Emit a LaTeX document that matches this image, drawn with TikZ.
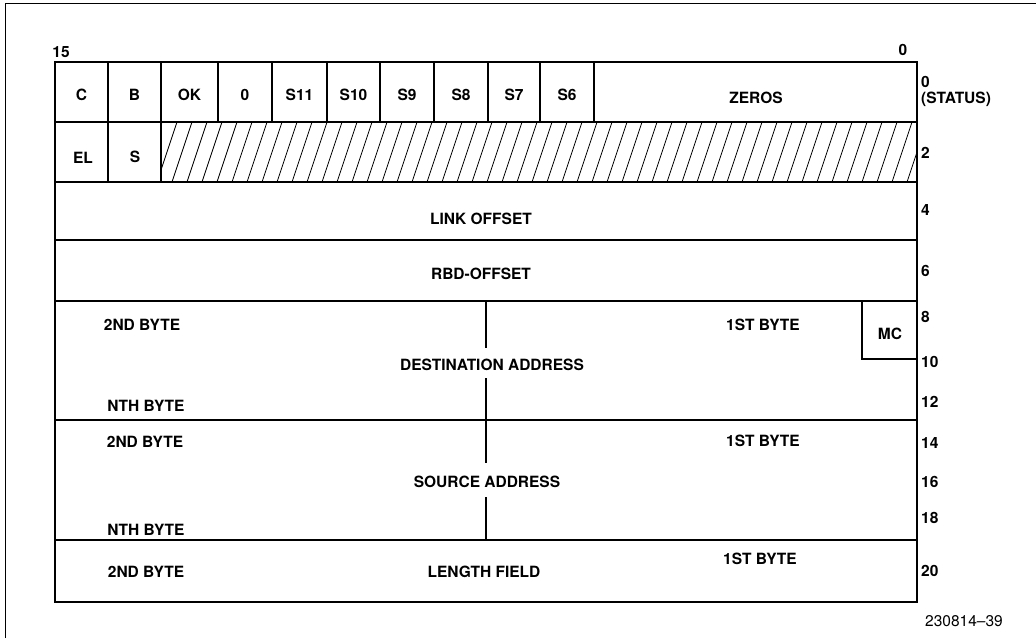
\documentclass[tikz,border=0pt]{standalone}
\usepackage{fontspec}
\setmainfont{TeX Gyre Heros}
\usetikzlibrary{calc}

\tikzset{
  fld/.style = {font=\bfseries\fontsize{15.5}{16}\selectfont, inner sep=0pt},
  rowline/.style = {line width=1.6pt},
}

\begin{document}
\begin{tikzpicture}[x=1pt,y=-1pt]
        \useasboundingbox (0,0) rectangle (1036,638);
        % Rahmen
        \draw[line width=0.8pt](5,638)to(5,3)to(1036,3);
        % Tabelle
        \draw[rowline](55,62)rectangle(917,602);
        \foreach \y in {122,182,240,301,420,540}
        {
        \draw[rowline](55,\y)to(917,\y);
        }
        \foreach \x in {108,161,218,272,327,380,434,488,540,594}
        {
        \draw[rowline](\x,62)to(\x,122);
        }
        \foreach \x in {108,161}
        {
        \draw[rowline](\x,122)to(\x,182);
        }
        % schraffiert
        \begin{scope}
        \clip(161,122)rectangle(917,182);
        \foreach \x in {142,157,...,932}
        {
        \draw[line width=0.8pt](\x,182)to(\x+20,122);
        }
        \end{scope}
        % Trennlinie Adressen
        \draw[rowline](486,301)to(486,348);
        \draw[rowline](486,378)to(486,463);
        \draw[rowline](486,497)to(486,540);
        \draw[rowline](862,301)to(862,359)to(917,359);
        % Statusbits
        \foreach \t/\x in {C/81.5,B/134.5,OK/189.5,0/245,S11/299.5,S10/353.5,S9/407,S8/461,S7/514,S6/567}
        {
        \node[fld](f\t)at(\x,95){\t};
        }
        \node[fld](zeros)at(756,98){ZEROS};
        \node[fld](fEL)at(83,158){EL};
        \node[fld](fS)at(135,157){S};
        \node[fld](link)at(481,219){LINK OFFSET};
        \node[fld](rbd)at(481,274){RBD-OFFSET};
        % Adressen
        \node[fld](dest)at(492,365){DESTINATION ADDRESS};
        \node[fld](dest2)at(142,325){2ND BYTE};
        \node[fld](destN)at(146,406){NTH BYTE};
        \node[fld](dest1)at(763,325){1ST BYTE};
        \node[fld](mc)at(890,334){MC};
        \node[fld](src)at(487,482){SOURCE ADDRESS};
        \node[fld](src2)at(145,442){2ND BYTE};
        \node[fld](srcN)at(146,530){NTH BYTE};
        \node[fld](src1)at(763,441){1ST BYTE};
        \node[fld](len)at(484,572){LENGTH FIELD};
        \node[fld](len2)at(146,572){2ND BYTE};
        \node[fld](len1)at(760,559){1ST BYTE};
        % Bitnummern und Offsets
        \node[fld](b15)at(61,52){15};
        \node[fld](b0)at(903,50){0};
        \node[fld,anchor=north west,align=left](off0)at(921,76){0\\(STATUS)};
        \foreach \n/\y in {2/153,4/210,6/271,8/317,10/362,12/402,14/443,16/482,18/518,20/571}
        {
        \node[fld,anchor=west](off\n)at(921,\y){\n};
        }
        \node[font=\fontsize{15.5}{16}\selectfont,inner sep=0pt](fig)at(964,621){230814--39};
    \end{tikzpicture}
\end{document}
